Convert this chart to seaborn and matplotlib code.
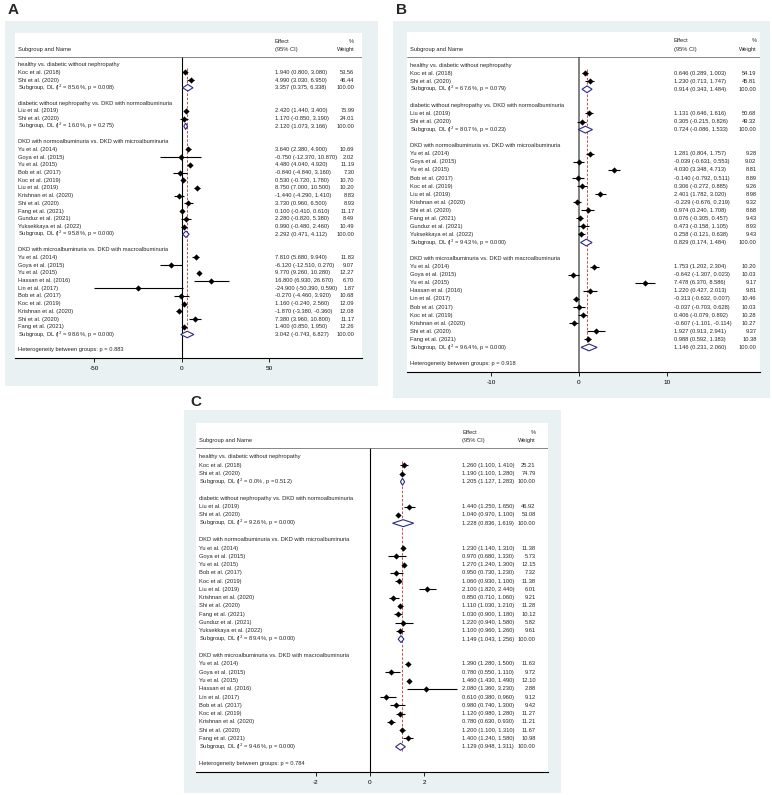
import numpy as np
import pandas as pd
import seaborn as sns
import matplotlib.pyplot as plt
from matplotlib.patches import Polygon

W, H = 772, 795

group_titles = ['healthy vs. diabetic without nephropathy',
                'diabetic without nephropathy vs. DKD with normoalbuminuria',
                'DKD with normoalbuminuria vs. DKD with microalbuminuria',
                'DKD with microalbuminuria vs. DKD with macroalbuminuria']
g1_names = ['Koc et al. (2018)', 'Shi et al. (2020)']
g2_names = ['Liu et al. (2019)', 'Shi et al. (2020)']
g3_names = ['Yu et al. (2014)', 'Goya et al. (2015)', 'Yu et al. (2015)', 'Bob et al. (2017)',
            'Koc et al. (2019)', 'Liu et al. (2019)', 'Krishnan et al. (2020)', 'Shi et al. (2020)',
            'Fang et al. (2021)', 'Gunduz et al. (2021)', 'Yuksekkaya et al. (2022)']
g4_names = ['Yu et al. (2014)', 'Goya et al. (2015)', 'Yu et al. (2015)', 'Hassan et al. (2016)',
            'Lin et al. (2017)', 'Bob et al. (2017)', 'Koc et al. (2019)', 'Krishnan et al. (2020)',
            'Shi et al. (2020)', 'Fang et al. (2021)']
study_names = [g1_names, g2_names, g3_names, g4_names]

# panel A
a_est = [[1.940, 4.990], [2.420, 1.170],
         [3.640, -0.750, 4.480, -0.840, 0.530, 8.750, -1.440, 3.730, 0.100, 2.280, 0.990],
         [7.810, -6.120, 9.770, 16.800, -24.900, -0.270, 1.160, -1.870, 7.380, 1.400]]
a_lo = [[0.800, 3.030], [1.440, -0.850],
        [2.380, -12.370, 4.040, -4.840, -0.720, 7.000, -4.290, 0.960, -0.410, -0.820, -0.480],
        [5.680, -12.510, 9.260, 6.930, -50.390, -4.460, -0.240, -3.380, 3.960, 0.850]]
a_hi = [[3.080, 6.950], [3.400, 3.190],
        [4.900, 10.870, 4.920, 3.160, 1.780, 10.500, 1.410, 6.500, 0.610, 5.380, 2.460],
        [9.940, 0.270, 10.280, 26.670, 0.590, 3.920, 2.560, -0.360, 10.800, 1.950]]
a_wt = [[53.56, 46.44], [75.99, 24.01],
        [10.69, 2.02, 11.19, 7.30, 10.70, 10.20, 8.83, 8.93, 11.17, 8.49, 10.49],
        [11.83, 9.07, 12.27, 6.70, 1.87, 10.68, 12.09, 12.08, 11.17, 12.26]]
a_sub = [[3.357, 0.375, 6.338], [2.120, 1.073, 3.166], [2.292, 0.471, 4.112], [3.042, -0.743, 6.827]]
a_i2 = [85.6, 16.0, 95.8, 98.6]
a_p = [0.008, 0.275, 0.000, 0.000]
a_het = 0.883
a_overall = 2.9

# panel B
b_est = [[0.646, 1.230], [1.131, 0.305],
         [1.281, -0.039, 4.030, -0.140, 0.306, 2.401, -0.229, 0.974, 0.076, 0.473, 0.258],
         [1.753, -0.642, 7.478, 1.220, -0.313, -0.037, 0.406, -0.607, 1.927, 0.988]]
b_lo = [[0.289, 0.713], [0.646, -0.215],
        [0.804, -0.631, 3.348, -0.792, -0.272, 1.782, -0.676, 0.240, -0.305, -0.158, -0.121],
        [1.202, -1.307, 6.370, 0.427, -0.632, -0.703, -0.079, -1.101, 0.913, 0.592]]
b_hi = [[1.003, 1.747], [1.616, 0.826],
        [1.757, 0.553, 4.713, 0.511, 0.885, 3.020, 0.219, 1.708, 0.457, 1.105, 0.638],
        [2.304, 0.023, 8.586, 2.013, 0.007, 0.628, 0.892, -0.114, 2.941, 1.383]]
b_wt = [[54.19, 45.81], [50.68, 49.32],
        [9.28, 9.02, 8.81, 8.89, 9.26, 8.98, 9.32, 8.68, 9.43, 8.93, 9.43],
        [10.20, 10.03, 9.17, 9.81, 10.46, 10.03, 10.28, 10.27, 9.37, 10.38]]
b_sub = [[0.914, 0.343, 1.484], [0.724, -0.086, 1.533], [0.829, 0.174, 1.484], [1.146, 0.231, 2.060]]
b_i2 = [67.6, 80.7, 94.3, 96.4]
b_p = [0.079, 0.023, 0.000, 0.000]
b_het = 0.918
b_overall = 0.9

# panel C
c_est = [[1.260, 1.190], [1.440, 1.040],
         [1.230, 0.970, 1.270, 0.950, 1.060, 2.100, 0.850, 1.110, 1.030, 1.220, 1.100],
         [1.390, 0.780, 1.460, 2.080, 0.610, 0.980, 1.120, 0.780, 1.200, 1.400]]
c_lo = [[1.100, 1.100], [1.250, 0.970],
        [1.140, 0.680, 1.240, 0.730, 0.930, 1.820, 0.710, 1.030, 0.900, 0.940, 0.960],
        [1.280, 0.550, 1.430, 1.360, 0.380, 0.740, 0.980, 0.630, 1.100, 1.240]]
c_hi = [[1.410, 1.280], [1.650, 1.100],
        [1.310, 1.330, 1.300, 1.230, 1.100, 2.440, 1.060, 1.210, 1.180, 1.580, 1.260],
        [1.500, 1.110, 1.490, 3.230, 0.960, 1.300, 1.280, 0.930, 1.310, 1.580]]
c_wt = [[25.21, 74.79], [46.92, 53.08],
        [11.38, 5.73, 12.15, 7.32, 11.38, 6.01, 9.21, 11.28, 10.12, 5.82, 9.61],
        [11.63, 9.72, 12.10, 2.88, 9.12, 9.42, 11.27, 11.21, 11.67, 10.98]]
c_sub = [[1.205, 1.127, 1.283], [1.228, 0.836, 1.619], [1.149, 1.043, 1.256], [1.129, 0.948, 1.311]]
c_i2 = [0.0, 92.6, 89.4, 94.6]
c_p = [0.512, 0.000, 0.000, 0.000]
c_het = 0.784
c_overall = 1.17

sns.set_style('white')
plt.rcParams['font.family'] = ['Liberation Sans', 'DejaVu Sans']

BG = '#e9f1f3'
NAVY = '#2b2b8a'
RED = '#b2352d'
FS = 4.15


def rect(x0, y0, x1, y1):
    return [x0 / W, 1 - y1 / H, (x1 - x0) / W, (y1 - y0) / H]


def build_rows(est, lo, hi, wt, sub, i2, p):
    rows = []
    r = 0
    for g in range(4):
        rows.append(dict(row=r, kind='title', label=group_titles[g]))
        r += 1
        for j, name in enumerate(study_names[g]):
            rows.append(dict(row=r, kind='study', label=name, est=est[g][j],
                             lo=lo[g][j], hi=hi[g][j], wt=wt[g][j]))
            r += 1
        rows.append(dict(row=r, kind='sub',
                         label=f'Subgroup, DL (I$^2$ = {i2[g]:.1f}%, p = {p[g]:.3f})',
                         est=sub[g][0], lo=sub[g][1], hi=sub[g][2], wt=100.0))
        r += 1
        r += 1  # blank line between groups
    return pd.DataFrame(rows), r


def draw_panel(letter, lpos, bg, box, xlim, ticks, overall, data, het, eff_x, wt_x, nullcol, nulllw):
    fig.text(lpos[0] / W, 1 - lpos[1] / H, letter, fontsize=11, fontweight='bold',
             ha='left', va='center')
    bgax = fig.add_axes(rect(*bg))
    bgax.set_facecolor(BG)
    bgax.set_xticks([])
    bgax.set_yticks([])
    for s in bgax.spines.values():
        s.set_visible(False)

    df, het_row = build_rows(*data)
    ax = fig.add_axes(rect(*box))
    ax.set_facecolor('white')
    studies = df[df.kind == 'study']
    ax.hlines(studies.row, studies.lo, studies.hi, color='black', lw=0.8, zorder=2)
    sns.scatterplot(data=studies, x='est', y='row', marker='D', color='black', s=10,
                    linewidth=0, ax=ax, zorder=3)
    for _, r in df[df.kind == 'sub'].iterrows():
        ax.add_patch(Polygon([(r.lo, r.row), (r.est, r.row - 0.42), (r.hi, r.row),
                              (r.est, r.row + 0.42)], closed=True, facecolor='white',
                             edgecolor=NAVY, lw=0.8, zorder=4))
    top, bottom = -4.1, het_row + 1.05
    ax.vlines(0, -1.05, bottom, color=nullcol, lw=nulllw, zorder=1)
    ax.vlines(overall, 0.5, het_row - 1.5, color=RED, lw=0.6, linestyles=(0, (3, 2)), zorder=1)
    ax.axhline(-1.05, color='#555555', lw=0.5)

    tr = ax.get_yaxis_transform()
    for _, r in df.iterrows():
        ax.text(0.009, r.row, r.label, transform=tr, fontsize=FS, ha='left', va='center')
        if r.kind != 'title':
            ax.text(eff_x, r.row, f'{r.est:.3f} ({r.lo:.3f}, {r.hi:.3f})', transform=tr,
                    fontsize=FS, ha='left', va='center')
            ax.text(wt_x, r.row, f'{r.wt:.2f}', transform=tr, fontsize=FS, ha='right', va='center')
    ax.text(0.009, het_row, f'Heterogeneity between groups: p = {het:.3f}', transform=tr,
            fontsize=FS, ha='left', va='center')
    ax.text(0.009, -1.95, 'Subgroup and Name', transform=tr, fontsize=FS, ha='left', va='center')
    ax.text(eff_x, -3.0, 'Effect', transform=tr, fontsize=FS, ha='left', va='center')
    ax.text(eff_x, -1.95, '(95% CI)', transform=tr, fontsize=FS, ha='left', va='center')
    ax.text(wt_x, -3.0, '%', transform=tr, fontsize=FS, ha='right', va='center')
    ax.text(wt_x, -1.95, 'Weight', transform=tr, fontsize=FS, ha='right', va='center')

    ax.set_xlim(*xlim)
    ax.set_ylim(bottom, top)
    ax.set_xticks(ticks)
    ax.set_xticklabels([str(t) for t in ticks])
    ax.set_yticks([])
    ax.set_xlabel('')
    ax.set_ylabel('')
    for side in ['top', 'left', 'right']:
        ax.spines[side].set_visible(False)
    ax.spines['bottom'].set_linewidth(0.8)
    ax.spines['bottom'].set_color('black')
    ax.tick_params(axis='x', direction='out', length=3, width=0.6, labelsize=4.6, pad=3,
                   bottom=True, colors='black')


fig = plt.figure(figsize=(W / 100, H / 100), dpi=100)

draw_panel('A', (8, 10), (5, 21, 378, 386), (15, 33, 362, 358), (-95.4, 102.9), [-50, 0, 50],
           a_overall, (a_est, a_lo, a_hi, a_wt, a_sub, a_i2, a_p), a_het, 0.749, 0.978,
           'black', 0.8)
draw_panel('B', (396, 10), (393, 21, 770, 398), (407, 32, 760, 372), (-19.55, 20.57), [-10, 0, 10],
           b_overall, (b_est, b_lo, b_hi, b_wt, b_sub, b_i2, b_p), b_het, 0.756, 0.99,
           '#777777', 1.3)
draw_panel('C', (190, 402), (184, 410, 561, 793), (196, 423, 548, 772), (-6.44, 6.59), [-2, 0, 2],
           c_overall, (c_est, c_lo, c_hi, c_wt, c_sub, c_i2, c_p), c_het, 0.756, 0.965,
           'black', 0.8)

fig.savefig('out.png', dpi=100)
